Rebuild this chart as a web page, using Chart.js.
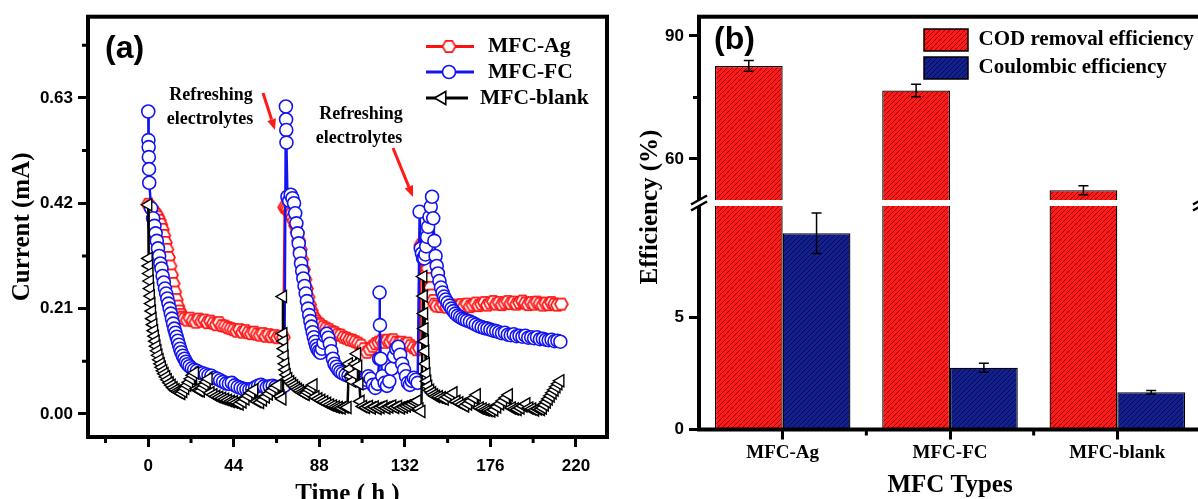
<!DOCTYPE html>
<html>
<head>
<meta charset="utf-8">
<script src="https://cdn.jsdelivr.net/npm/chart.js@4.4.1/dist/chart.umd.min.js"></script>
<style>
  html, body { margin: 0; padding: 0; background: #fff; overflow: hidden; width: 1198px; height: 499px; }
  #wrap { position: relative; width: 1198px; height: 499px; overflow: hidden; }
  #boxA { position: absolute; left: 0; top: 0; width: 625px; height: 511px; }
  #boxB { position: absolute; left: 620px; top: 0; width: 600px; height: 505px; }
</style>
</head>
<body>
<div id="wrap">
  <div id="boxA"><canvas id="chartA" width="625" height="511"></canvas></div>
  <div id="boxB"><canvas id="chartB" width="600" height="505"></canvas></div>
</div>
<script>
// ---- panel (a): current vs time, [hours, mA] ----
const agData = [
  [0, 0.418], [0.8, 0.414], [1.6, 0.41], [2.4, 0.406], [3.2, 0.402], [4, 0.398], [4.8, 0.393], [5.6, 0.386],
  [6.4, 0.378], [7.2, 0.368], [8, 0.356], [8.8, 0.342], [9.6, 0.328], [10.4, 0.312], [11.2, 0.295], [12, 0.277],
  [12.8, 0.26], [13.6, 0.243], [14.4, 0.228], [15.2, 0.215], [16, 0.205], [16.8, 0.198], [17.6, 0.193], [18.5, 0.19],
  [20, 0.187], [21.5, 0.191], [23, 0.186], [24.5, 0.183], [26, 0.189], [27.5, 0.185], [29, 0.187], [30.5, 0.182],
  [32, 0.185], [33.5, 0.181], [35, 0.178], [36.5, 0.182], [38, 0.176], [39.5, 0.175], [41, 0.172], [42.5, 0.17],
  [44, 0.168], [45.5, 0.165], [47, 0.168], [48.5, 0.163], [50, 0.166], [51.5, 0.162], [53, 0.16], [54.5, 0.163],
  [56, 0.159], [57.5, 0.157], [59, 0.16], [60.5, 0.155], [62, 0.158], [63.5, 0.154], [65, 0.156], [66.5, 0.152],
  [68, 0.155], [69.5, 0.153],
  [70.2, 0.412], [71, 0.41], [71.8, 0.407], [72.6, 0.403], [73.4, 0.398], [74.2, 0.392], [75, 0.385], [75.8, 0.375],
  [76.6, 0.362], [77.4, 0.346], [78.2, 0.328], [79, 0.308], [79.8, 0.288], [80.6, 0.268], [81.4, 0.25], [82.2, 0.233],
  [83, 0.218], [83.8, 0.206], [84.6, 0.197], [85.5, 0.19], [86.5, 0.185], [87.5, 0.181], [88.5, 0.178], [90, 0.174],
  [91.5, 0.171], [93, 0.168], [94.5, 0.164], [96, 0.162], [97.5, 0.158], [99, 0.157], [100.5, 0.153], [102, 0.151],
  [103.5, 0.148], [105, 0.147], [106.5, 0.144], [108, 0.141], [109.5, 0.137], [111, 0.13], [112.5, 0.123], [114, 0.129],
  [115.5, 0.135], [117, 0.14], [118.5, 0.143], [120, 0.146], [121.5, 0.143], [123, 0.147], [124.5, 0.144], [126, 0.148],
  [127.5, 0.143], [129, 0.141], [130.5, 0.143], [132, 0.139], [133.5, 0.141], [135, 0.136], [136.5, 0.132], [138, 0.128],
  [139.5, 0.131],
  [140.3, 0.337], [141, 0.335], [141.7, 0.331], [142.4, 0.322], [143.1, 0.308], [143.8, 0.29], [144.5, 0.27], [145.2, 0.252],
  [145.9, 0.237], [146.6, 0.226], [147.4, 0.219], [148.4, 0.215], [150.5, 0.214], [152, 0.218], [153.5, 0.213], [155, 0.216],
  [156.5, 0.212], [158, 0.217], [159.5, 0.214], [161, 0.218], [162.5, 0.215], [164, 0.219], [165.5, 0.214], [167, 0.217],
  [168.5, 0.221], [170, 0.216], [171.5, 0.219], [173, 0.222], [174.5, 0.217], [176, 0.221], [177.5, 0.224], [179, 0.219],
  [180.5, 0.222], [182, 0.218], [183.5, 0.221], [185, 0.224], [186.5, 0.22], [188, 0.223], [189.5, 0.219], [191, 0.222],
  [192.5, 0.225], [194, 0.221], [195.5, 0.218], [197, 0.222], [198.5, 0.219], [200, 0.223], [201.5, 0.22], [203, 0.217],
  [204.5, 0.221], [206, 0.218], [207.5, 0.222], [209, 0.219], [210.5, 0.217], [212.5, 0.219]
];

const fcData = [
  [0, 0.603], [0.1, 0.546], [0.2, 0.532], [0.3, 0.512], [0.4, 0.488], [0.5, 0.461], [1.5, 0.41], [2.5, 0.39],
  [3.2, 0.375], [3.8, 0.36], [4.4, 0.345], [5, 0.33], [5.6, 0.315], [6.2, 0.3], [6.8, 0.29], [7.4, 0.275],
  [8, 0.262], [8.6, 0.25], [9.2, 0.24], [9.8, 0.23], [10.4, 0.22], [11, 0.21], [11.6, 0.2], [12.2, 0.19],
  [12.8, 0.18], [13.4, 0.17], [14, 0.162], [14.6, 0.154], [15.2, 0.146], [15.8, 0.138], [16.4, 0.13], [17, 0.123],
  [17.8, 0.116], [18.6, 0.11], [19.4, 0.104], [20.2, 0.099], [21.2, 0.095], [22.4, 0.091], [23.6, 0.088], [25, 0.086],
  [26.5, 0.083], [28, 0.081], [29.5, 0.079], [31, 0.077], [32.5, 0.076], [34, 0.072], [35.5, 0.07], [37, 0.067],
  [38.5, 0.064], [40, 0.061], [41.5, 0.06], [43, 0.062], [44.5, 0.057], [46, 0.054], [47.5, 0.052], [49, 0.05],
  [50.5, 0.049], [52, 0.048], [53.5, 0.05], [55, 0.053], [56.5, 0.056], [58, 0.058], [59.5, 0.055], [61, 0.053],
  [62.5, 0.055], [64, 0.056], [65.5, 0.054], [67, 0.052], [68.5, 0.055], [70, 0.056],
  [70.8, 0.613], [70.9, 0.587], [71, 0.566], [71.1, 0.541], [71.6, 0.433], [72.5, 0.425], [73.3, 0.437], [74.2, 0.43],
  [75, 0.42], [75.6, 0.4], [76.2, 0.38], [76.8, 0.36], [77.4, 0.34], [78, 0.32], [78.6, 0.3], [79.2, 0.285],
  [79.8, 0.27], [80.4, 0.255], [81, 0.24], [81.6, 0.225], [82.2, 0.21], [82.8, 0.197], [83.4, 0.185], [84, 0.174],
  [84.6, 0.163], [85.2, 0.153], [85.8, 0.144], [86.4, 0.136], [87, 0.13], [87.8, 0.125], [88.6, 0.122], [89.4, 0.13],
  [90.2, 0.142], [91, 0.155], [91.8, 0.16], [92.6, 0.152], [93.4, 0.14], [94.2, 0.125], [95, 0.11], [95.8, 0.1],
  [96.8, 0.094], [97.8, 0.088], [98.8, 0.084], [100, 0.081], [101.5, 0.078], [103, 0.076], [104.5, 0.074], [106, 0.072],
  [107.5, 0.07], [109, 0.066], [110.5, 0.062], [112, 0.068], [113.2, 0.075], [114.4, 0.07], [115.6, 0.058], [116.8, 0.052],
  [118, 0.06], [118.8, 0.11], [119, 0.242], [119.2, 0.177], [119.6, 0.11], [120.4, 0.075], [121.6, 0.062], [122.8, 0.056],
  [124, 0.065], [125.2, 0.09], [126.4, 0.115], [127.6, 0.13], [128.6, 0.134], [129.6, 0.118], [130.6, 0.1], [131.6, 0.088],
  [132.6, 0.075], [133.6, 0.062], [134.6, 0.058], [135.6, 0.066], [136.6, 0.072], [137.6, 0.068], [138.6, 0.062],
  [139.6, 0.403], [140.2, 0.33], [140.8, 0.32], [141.4, 0.31], [142, 0.31], [142.6, 0.318], [143, 0.334], [143.5, 0.353],
  [144, 0.373], [144.7, 0.393], [145.3, 0.413], [146, 0.433], [146.6, 0.39], [147.2, 0.345], [147.8, 0.315], [148.4, 0.295],
  [149, 0.28], [149.8, 0.265], [150.6, 0.252], [151.4, 0.242], [152.2, 0.234], [153, 0.228], [154, 0.222], [155, 0.216],
  [156, 0.21], [157, 0.205], [158, 0.2], [159.2, 0.196], [160.4, 0.193], [161.6, 0.19], [162.8, 0.188], [164, 0.186],
  [165.5, 0.184], [167, 0.181], [168.5, 0.178], [170, 0.175], [171.5, 0.173], [173, 0.171], [174.5, 0.17], [176, 0.168],
  [177.5, 0.166], [179, 0.165], [180.5, 0.163], [182, 0.161], [183.5, 0.162], [185, 0.158], [186.5, 0.157], [188, 0.159],
  [189.5, 0.155], [191, 0.156], [192.5, 0.154], [194, 0.156], [195.5, 0.152], [197, 0.153], [198.5, 0.151], [200, 0.153],
  [201.5, 0.149], [203, 0.15], [204.5, 0.148], [206, 0.147], [207.5, 0.148], [209, 0.145], [210.5, 0.146], [212, 0.144]
];

const blankData = [
  [0, 0.417], [0.2, 0.31], [0.4, 0.295], [0.6, 0.28], [0.8, 0.265], [1, 0.25], [1.3, 0.235], [1.6, 0.22],
  [1.9, 0.205], [2.2, 0.19], [2.6, 0.178], [3, 0.166], [3.4, 0.155], [3.8, 0.145], [4.2, 0.135], [4.7, 0.126],
  [5.2, 0.117], [5.8, 0.108], [6.4, 0.1], [7, 0.093], [7.7, 0.086], [8.4, 0.08], [9.2, 0.074], [10, 0.068],
  [11, 0.062], [12, 0.057], [13, 0.052], [14, 0.048], [15, 0.045], [16, 0.043], [17, 0.041], [18, 0.045],
  [19, 0.051], [20, 0.057], [21, 0.063], [22, 0.07], [23, 0.077], [24, 0.082], [25, 0.05], [26, 0.047],
  [27, 0.046], [28, 0.052], [29, 0.058], [30, 0.064], [31, 0.07], [32, 0.042], [33.5, 0.038], [35, 0.035],
  [36.5, 0.033], [38, 0.031], [39.5, 0.029], [41, 0.027], [42.5, 0.025], [44, 0.024], [45.5, 0.022], [47, 0.02],
  [48.5, 0.024], [50, 0.03], [51.5, 0.036], [53, 0.042], [54.5, 0.048], [56, 0.025], [57.5, 0.023], [59, 0.028],
  [60.5, 0.034], [62, 0.04], [63.5, 0.046], [65, 0.052], [66.5, 0.057], [68, 0.035], [69, 0.03],
  [69.3, 0.234], [69.5, 0.16], [69.7, 0.145], [69.9, 0.13], [70.1, 0.115], [70.4, 0.1], [70.7, 0.088], [71.2, 0.078],
  [72, 0.07], [73, 0.064], [74, 0.06], [75, 0.056], [76, 0.052], [77, 0.049], [78, 0.046], [79, 0.043],
  [80, 0.041], [81, 0.039], [82, 0.043], [83, 0.048], [84, 0.053], [85, 0.058], [86, 0.034], [87.5, 0.03],
  [89, 0.027], [90.5, 0.024], [92, 0.021], [93.5, 0.018], [95, 0.016], [96.5, 0.014], [98, 0.013], [99.5, 0.012],
  [101, 0.014], [102.5, 0.013], [103.2, 0.1], [103.6, 0.09], [104.2, 0.075], [105, 0.065], [105.8, 0.08], [106.6, 0.1],
  [107.4, 0.12], [108, 0.095], [108.6, 0.06], [109.2, 0.025], [110.5, 0.015], [112, 0.013], [113.5, 0.015], [115, 0.012],
  [116.5, 0.014], [118, 0.011], [119.5, 0.013], [121, 0.015], [122.5, 0.012], [124, 0.014], [125.5, 0.016], [127, 0.013],
  [128.5, 0.015], [130, 0.012], [131.5, 0.014], [133, 0.016], [134.5, 0.018], [136, 0.02], [137.5, 0.023], [138.5, 0.026],
  [139.5, 0.01], [140.5, 0.005],
  [141.5, 0.274], [141.7, 0.235], [141.9, 0.2], [142.1, 0.17], [142.3, 0.145], [142.5, 0.125], [142.8, 0.1], [143.1, 0.08],
  [143.5, 0.065], [144, 0.055], [145, 0.047], [146, 0.042], [147, 0.038], [148, 0.035], [149.5, 0.034], [151, 0.032],
  [152.5, 0.03], [154, 0.034], [155.5, 0.038], [157, 0.042], [158.5, 0.025], [160, 0.022], [161.5, 0.019], [163, 0.016],
  [164.5, 0.02], [166, 0.026], [167.5, 0.032], [169, 0.038], [170.5, 0.012], [172, 0.01], [173.5, 0.008], [175, 0.007],
  [176.5, 0.006], [178, 0.008], [179.5, 0.014], [181, 0.02], [182.5, 0.026], [184, 0.032], [185.5, 0.038], [187, 0.012],
  [188.5, 0.01], [190, 0.009], [191.5, 0.012], [193, 0.016], [194.5, 0.02], [196, 0.012], [197.5, 0.01], [199, 0.008],
  [200.5, 0.01], [202, 0.009], [203, 0.012], [204, 0.018], [205, 0.024], [206, 0.03], [207, 0.036], [208, 0.042],
  [209, 0.048], [210, 0.054], [211, 0.06], [212, 0.066]
];

const timeTicks = [0, 44, 88, 132, 176, 220];
const timeMinorTicks = [-22, 22, 66, 110, 154, 198];
const currentTicks = [0, 0.21, 0.42, 0.63];
const currentMinorTicks = [0.105, 0.315, 0.525, 0.735];

// ---- panel (b): efficiencies (%) ----
const mfcTypes = ['MFC-Ag', 'MFC-FC', 'MFC-blank'];
const codRemoval = [82.7, 76.7, 52.4];
const codError = [1.3, 1.5, 1.1];
const coulombic = [8.74, 2.75, 1.66];
const coulombicError = [0.9, 0.2, 0.08];
const effTicksHigh = [60, 90];
const effMinorHigh = [75];
const effTicksLow = [0, 5];

// broken axis ranges
const LOW_MAX = 10.09;
const HIGH_MIN = 49.27;
const HIGH_MAX = 94.7;

const SERIF = '"Liberation Serif", "Times New Roman", serif';
const SANS = '"Liberation Sans", Arial, sans-serif';
const RED = '#ff1010';
const BLUE = '#1414f0';
const BLACK = '#000';

const xy = pts => pts.map(p => ({ x: p[0], y: p[1] }));

function hexMarker(r, color) {
  const s = Math.ceil(r * 2 + 4);
  const c = document.createElement('canvas');
  c.width = s; c.height = s;
  const g = c.getContext('2d');
  g.translate(s / 2, s / 2);
  g.beginPath();
  for (let k = 0; k < 6; k++) {
    const a = Math.PI / 3 * k;
    g.lineTo(r * Math.cos(a), r * Math.sin(a));
  }
  g.closePath();
  g.fillStyle = '#fff'; g.fill();
  g.lineWidth = 1.7; g.strokeStyle = color; g.stroke();
  return c;
}

function hatch(bg, line) {
  const n = 5;
  const c = document.createElement('canvas');
  c.width = n; c.height = n;
  const g = c.getContext('2d');
  g.fillStyle = bg; g.fillRect(0, 0, n, n);
  g.strokeStyle = line; g.lineWidth = 1;
  g.beginPath();
  g.moveTo(0, n); g.lineTo(n, 0);
  g.moveTo(-1, 1); g.lineTo(1, -1);
  g.moveTo(n - 1, n + 1); g.lineTo(n + 1, n - 1);
  g.stroke();
  return g.createPattern(c, 'repeat');
}

function arrow(ctx, x1, y1, x2, y2) {
  const ang = Math.atan2(y2 - y1, x2 - x1), head = 11, half = 4.5;
  const bx = x2 - head * Math.cos(ang), by = y2 - head * Math.sin(ang);
  ctx.beginPath(); ctx.moveTo(x1, y1); ctx.lineTo(bx, by); ctx.stroke();
  ctx.beginPath();
  ctx.moveTo(x2, y2);
  ctx.lineTo(bx + half * Math.sin(ang), by - half * Math.cos(ang));
  ctx.lineTo(bx - half * Math.sin(ang), by + half * Math.cos(ang));
  ctx.closePath(); ctx.fill();
}

const hexRed = hexMarker(6.5, RED);

// ---- panel (a) decorations: frame, minor ticks, label, notes, legend ----
const panelA = {
  id: 'panelA',
  afterDraw(chart) {
    const { ctx, chartArea: a, scales: { x, y } } = chart;
    ctx.save();
    ctx.strokeStyle = '#000';
    ctx.lineWidth = 4;
    ctx.strokeRect(a.left, a.top, a.right - a.left, a.bottom - a.top);

    ctx.lineWidth = 3;
    ctx.beginPath();
    timeMinorTicks.forEach(v => {
      const px = x.getPixelForValue(v);
      ctx.moveTo(px, a.bottom); ctx.lineTo(px, a.bottom + 6);
    });
    currentMinorTicks.forEach(v => {
      const py = y.getPixelForValue(v);
      ctx.moveTo(a.left, py); ctx.lineTo(a.left - 6, py);
    });
    ctx.stroke();

    ctx.fillStyle = '#000';
    ctx.font = 'bold 32px ' + SANS;
    ctx.textAlign = 'left'; ctx.textBaseline = 'alphabetic';
    ctx.fillText('(a)', 105, 58);

    ctx.font = 'bold 18px ' + SERIF;
    ctx.textAlign = 'center';
    ctx.fillText('Refreshing', 211, 99.5);
    ctx.fillText('electrolytes', 210, 124);
    ctx.fillText('Refreshing', 361, 118.5);
    ctx.fillText('electrolytes', 359, 142.5);

    ctx.strokeStyle = '#ff1a1a'; ctx.fillStyle = '#ff1a1a'; ctx.lineWidth = 3;
    arrow(ctx, 263, 93, 275, 130);
    arrow(ctx, 393, 148, 413, 197);

    // legend
    const ds = chart.data.datasets;
    const rows = [
      { d: ds[0], y: 46.5, x0: 426, x1: 474, mx: 449, tx: 488 },
      { d: ds[1], y: 72, x0: 426, x1: 474, mx: 449, tx: 488 },
      { d: ds[2], y: 98, x0: 426, x1: 468, mx: 442, tx: 480 }
    ];
    rows.forEach((r, i) => {
      ctx.strokeStyle = r.d.borderColor; ctx.lineWidth = 3;
      ctx.beginPath(); ctx.moveTo(r.x0, r.y); ctx.lineTo(r.x1, r.y); ctx.stroke();
      ctx.lineWidth = 1.6;
      if (i === 0) {
        ctx.drawImage(hexRed, r.mx - hexRed.width / 2, r.y - hexRed.height / 2);
      } else if (i === 1) {
        ctx.beginPath(); ctx.arc(r.mx, r.y, 6.5, 0, Math.PI * 2);
        ctx.fillStyle = '#fff'; ctx.fill(); ctx.stroke();
      } else {
        const rr = 7.5;
        ctx.beginPath();
        ctx.moveTo(r.mx - rr, r.y);
        ctx.lineTo(r.mx + rr * 0.5, r.y - rr * 0.866);
        ctx.lineTo(r.mx + rr * 0.5, r.y + rr * 0.866);
        ctx.closePath();
        ctx.fillStyle = '#fff'; ctx.fill(); ctx.stroke();
      }
      ctx.fillStyle = '#000';
      ctx.font = 'bold 21.5px ' + SERIF;
      ctx.textAlign = 'left'; ctx.textBaseline = 'middle';
      ctx.fillText(r.d.label, r.tx, r.y);
    });
    ctx.restore();
  }
};

const tickFont = { family: SANS, size: 17, weight: 'bold' };
const titleFont = { family: SERIF, size: 25, weight: 'bold' };
const tickGrid = { drawOnChartArea: false, drawTicks: true, tickLength: 10, tickWidth: 3, tickColor: '#000' };

new Chart(document.getElementById('chartA'), {
  type: 'scatter',
  data: {
    datasets: [
      {
        label: 'MFC-Ag', data: xy(agData), showLine: true, order: 2,
        borderColor: RED, borderWidth: 2.5, pointStyle: hexRed, pointRadius: 6.5
      },
      {
        label: 'MFC-FC', data: xy(fcData), showLine: true, order: 1,
        borderColor: BLUE, borderWidth: 2.5, pointStyle: 'circle', pointRadius: 6.5,
        pointBackgroundColor: '#fff', pointBorderColor: BLUE, pointBorderWidth: 1.6
      },
      {
        label: 'MFC-blank', data: xy(blankData), showLine: true, order: 0,
        borderColor: BLACK, borderWidth: 2.5, pointStyle: 'triangle', pointRotation: -90, pointRadius: 7,
        pointBackgroundColor: '#fff', pointBorderColor: BLACK, pointBorderWidth: 1.4
      }
    ]
  },
  options: {
    responsive: false,
    animation: false,
    events: [],
    layout: { padding: { top: 16.7, right: 18, left: 0, bottom: 0 } },
    plugins: { legend: { display: false }, tooltip: { enabled: false } },
    scales: {
      x: {
        type: 'linear', min: -31, max: 236,
        afterBuildTicks: s => { s.ticks = timeTicks.map(v => ({ value: v })); },
        afterFit: s => { s.height = 74; },
        ticks: { color: '#000', font: tickFont, padding: 9, maxRotation: 0, autoSkip: false },
        grid: tickGrid,
        border: { display: false },
        title: { display: true, text: 'Time ( h )', color: '#000', font: titleFont, padding: { top: 0, bottom: 1 } }
      },
      y: {
        type: 'linear', min: -0.046, max: 0.792,
        afterBuildTicks: s => { s.ticks = currentTicks.map(v => ({ value: v })); },
        afterFit: s => { s.width = 88; },
        ticks: { color: '#000', font: tickFont, padding: 5, callback: v => v.toFixed(2) },
        grid: tickGrid,
        border: { display: false },
        title: { display: true, text: 'Current (mA)', color: '#000', font: titleFont, padding: { top: 8, bottom: 0 } }
      }
    }
  },
  plugins: [panelA]
});

// ---- panel (b) ----
const redHatch = hatch('#ff1a1a', '#900000');
const blueHatch = hatch('#14208e', '#050b50');

const panelB = {
  id: 'panelB',
  afterDatasetsDraw(chart) {
    const { ctx, scales: { yLow, yHigh } } = chart;
    ctx.save();
    ctx.strokeStyle = '#000'; ctx.lineWidth = 1.5;
    const bars = (i, vals, errs, scale) => {
      chart.getDatasetMeta(i).data.forEach((bar, j) => {
        const t = scale.getPixelForValue(vals[j] + errs[j]);
        const b = scale.getPixelForValue(vals[j] - errs[j]);
        ctx.beginPath();
        ctx.moveTo(bar.x, t); ctx.lineTo(bar.x, b);
        ctx.moveTo(bar.x - 5, t); ctx.lineTo(bar.x + 5, t);
        ctx.moveTo(bar.x - 5, b); ctx.lineTo(bar.x + 5, b);
        ctx.stroke();
      });
    };
    bars(1, codRemoval, codError, yHigh);
    bars(2, coulombic, coulombicError, yLow);
    ctx.restore();
  },
  afterDraw(chart) {
    const { ctx, chartArea: a, scales: { x, yHigh } } = chart;
    ctx.save();
    ctx.strokeStyle = '#000';
    ctx.lineWidth = 4;
    ctx.strokeRect(a.left, a.top, a.right - a.left, a.bottom - a.top);

    // minor ticks
    ctx.lineWidth = 3;
    ctx.beginPath();
    effMinorHigh.forEach(v => {
      const py = yHigh.getPixelForValue(v);
      ctx.moveTo(a.left, py); ctx.lineTo(a.left - 6, py);
    });
    for (let i = 0; i < mfcTypes.length - 1; i++) {
      const px = x.getPixelForValue(i + 0.5);
      ctx.moveTo(px, a.bottom); ctx.lineTo(px, a.bottom + 6);
    }
    ctx.stroke();

    // axis break
    const yb = yHigh.bottom;
    ctx.fillStyle = '#fff';
    ctx.fillRect(a.left - 12, yb - 3, a.right - a.left + 24, 6);
    ctx.lineWidth = 2.5;
    ctx.beginPath();
    [a.left, a.right].forEach(px => {
      ctx.moveTo(px - 8, yb - 3 + 4.5); ctx.lineTo(px + 8, yb - 3 - 4.5);
      ctx.moveTo(px - 8, yb + 3 + 4.5); ctx.lineTo(px + 8, yb + 3 - 4.5);
    });
    ctx.stroke();

    ctx.fillStyle = '#000';
    ctx.font = 'bold 32px ' + SANS;
    ctx.textAlign = 'left'; ctx.textBaseline = 'alphabetic';
    ctx.fillText('(b)', 94, 49);

    // y title spanning both stacked axes
    ctx.save();
    ctx.translate(31, 207);
    ctx.rotate(-Math.PI / 2);
    ctx.font = 'bold 25px ' + SERIF;
    ctx.textAlign = 'center'; ctx.textBaseline = 'middle';
    ctx.fillText('Efficiency (%)', 0, 0);
    ctx.restore();

    // legend
    const ds = chart.data.datasets;
    [[ds[0], 29], [ds[2], 57]].forEach(([d, ty]) => {
      ctx.fillStyle = d.backgroundColor;
      ctx.fillRect(304, ty, 44, 22);
      ctx.lineWidth = 1.5; ctx.strokeStyle = '#000';
      ctx.strokeRect(304, ty, 44, 22);
      ctx.fillStyle = '#000';
      ctx.font = 'bold 21px ' + SERIF;
      ctx.textAlign = 'left'; ctx.textBaseline = 'middle';
      ctx.fillText(d.label, 358.5, ty + 11);
    });
    ctx.restore();
  }
};

const barCommon = { borderColor: '#000', borderWidth: 1.3, categoryPercentage: 0.81, barPercentage: 1 };

new Chart(document.getElementById('chartB'), {
  type: 'bar',
  data: {
    labels: mfcTypes,
    datasets: [
      Object.assign({ label: 'COD removal efficiency', data: codRemoval.map(v => Math.min(v, LOW_MAX)),
        yAxisID: 'yLow', stack: 'cod', backgroundColor: redHatch }, barCommon),
      Object.assign({ label: 'COD removal efficiency', data: codRemoval, base: HIGH_MIN,
        yAxisID: 'yHigh', stack: 'cod', backgroundColor: redHatch }, barCommon),
      Object.assign({ label: 'Coulombic efficiency', data: coulombic,
        yAxisID: 'yLow', stack: 'ce', backgroundColor: blueHatch }, barCommon)
    ]
  },
  options: {
    responsive: false,
    animation: false,
    events: [],
    layout: { padding: { top: 16.7, right: 19, left: 0, bottom: 0 } },
    plugins: { legend: { display: false }, tooltip: { enabled: false } },
    scales: {
      x: {
        type: 'category', offset: true,
        afterFit: s => { s.height = 75.5; },
        ticks: { color: '#000', font: { family: SERIF, size: 19, weight: 'bold' }, padding: 2.4 },
        grid: Object.assign({}, tickGrid, { offset: false }),
        border: { display: false },
        title: { display: true, text: 'MFC Types', color: '#000', font: titleFont, padding: { top: 0, bottom: 4 } }
      },
      yLow: {
        type: 'linear', position: 'left', stack: 'eff', stackWeight: 226.5, stacked: false,
        min: 0, max: LOW_MAX,
        afterBuildTicks: s => { s.ticks = effTicksLow.map(v => ({ value: v })); },
        afterFit: s => { s.width = 79; },
        ticks: { color: '#000', font: tickFont, padding: 5 },
        grid: tickGrid,
        border: { display: false }
      },
      yHigh: {
        type: 'linear', position: 'left', stack: 'eff', stackWeight: 186.3, stacked: false,
        min: HIGH_MIN, max: HIGH_MAX,
        afterBuildTicks: s => { s.ticks = effTicksHigh.map(v => ({ value: v })); },
        afterFit: s => { s.width = 79; },
        ticks: { color: '#000', font: tickFont, padding: 5 },
        grid: tickGrid,
        border: { display: false }
      }
    }
  },
  plugins: [panelB]
});
</script>
</body>
</html>
